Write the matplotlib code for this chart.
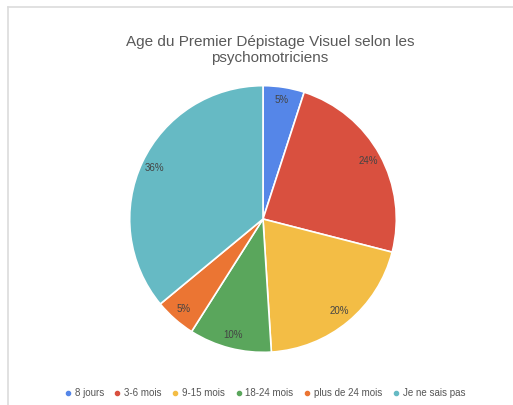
import numpy as np
import matplotlib.pyplot as plt
from matplotlib.lines import Line2D

categories = ['8 jours', '3-6 mois', '9-15 mois', '18-24 mois', 'plus de 24 mois', 'Je ne sais pas']
values = [5, 24, 20, 10, 5, 36]
colors = ['#5586e8', '#d9503f', '#f3bd45', '#5aa65c', '#eb7533', '#66bac4']
title = 'Age du Premier Dépistage Visuel selon les\npsychomotriciens'

plt.rcParams['font.family'] = ['Liberation Sans', 'DejaVu Sans']

fig = plt.figure(figsize=(5.13, 4.05), dpi=100)

# card border along top and left
fig.add_artist(Line2D([8 / 513, 1], [1 - 7 / 405, 1 - 7 / 405], color='#dcdcdc', lw=1.2))
fig.add_artist(Line2D([8 / 513, 8 / 513], [0, 1 - 7 / 405], color='#dcdcdc', lw=1.2))

# pie centred at (263, 219) px with radius 134 px
cx, cy, r = 263, 219, 134
ax = fig.add_axes([(cx - r) / 513, 1 - (cy + r) / 405, 2 * r / 513, 2 * r / 405])
wedges, _ = ax.pie(values, colors=colors, startangle=90, counterclock=False,
                   wedgeprops=dict(edgecolor='white', linewidth=1.2))
ax.set_xlim(-1.005, 1.005)
ax.set_ylim(-1.005, 1.005)
ax.set_aspect('equal')

angle = 90.0
for v in values:
    mid = np.deg2rad(angle - v * 3.6 / 2)
    angle -= v * 3.6
    ax.text(0.9 * np.cos(mid), 0.9 * np.sin(mid), f'{v}%', ha='center', va='center',
            fontsize=7, color='#444444')

fig.text(270 / 513, 1 - 50 / 405, title, ha='center', va='center', fontsize=11,
         color='#595959', linespacing=1.1)

handles = [Line2D([], [], marker='o', ls='', color=c, markersize=3) for c in colors]
fig.legend(handles, categories, loc='center', bbox_to_anchor=(265 / 513, 1 - 393 / 405),
           ncol=6, frameon=False, fontsize=7, handlelength=0.6, handletextpad=0.4,
           columnspacing=1.1, labelcolor='#555555')

fig.savefig('out.png', dpi=100)
